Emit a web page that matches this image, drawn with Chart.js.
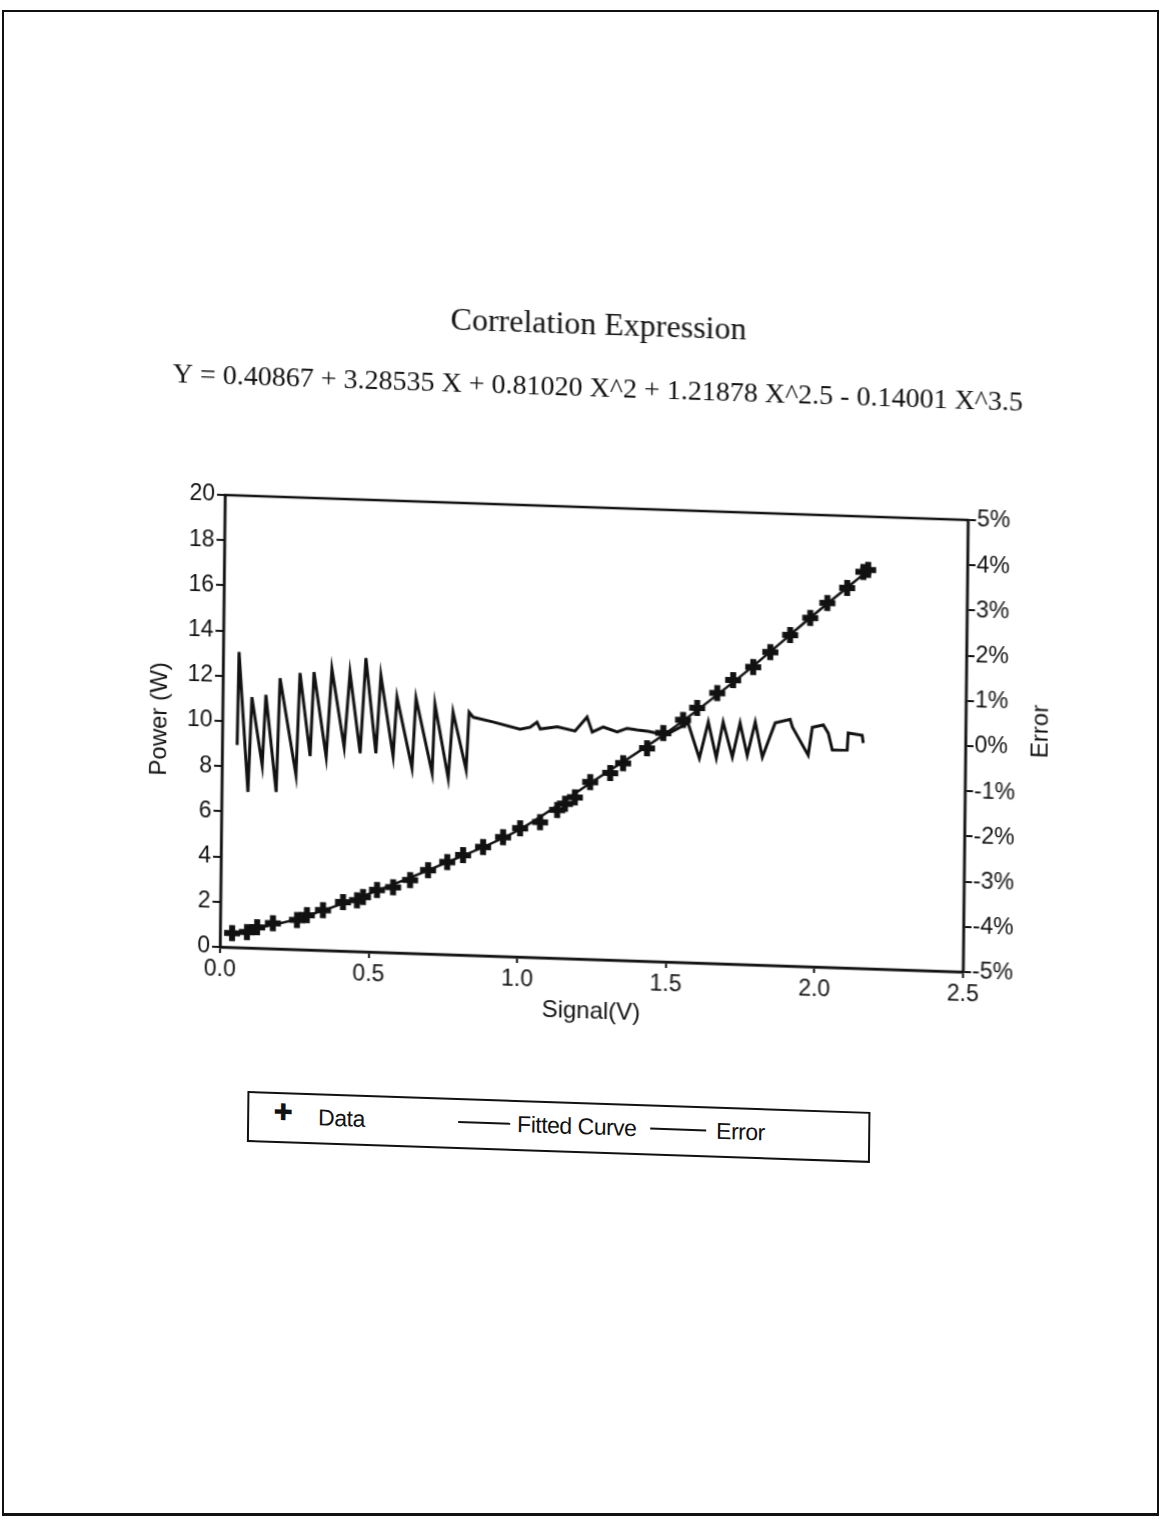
<!DOCTYPE html>
<html>
<head>
<meta charset="utf-8">
<title>Correlation Expression</title>
<script src="https://cdn.jsdelivr.net/npm/chart.js@4.4.1/dist/chart.umd.min.js"></script>
<style>
    html, body { margin: 0; padding: 0; background: #fff; }
    body { width: 1166px; height: 1530px; position: relative; overflow: hidden; }
    .page-frame {
        position: absolute; left: 2px; top: 10px; width: 1157px; height: 1506px;
        border: 2px solid #111; border-bottom-width: 3px; box-sizing: border-box;
    }
    /* the scanned sheet is slightly skewed, so the whole drawing is too */
    .sheet {
        position: absolute; left: 0; top: 0; width: 1166px; height: 1530px;
        transform-origin: 225px 495px;
        transform: matrix(1, 0.0336, -0.011, 1, 0, 0);
    }
    #chart { position: absolute; left: 0; top: 0; }
    .legend-box {
        position: absolute; left: 254px; top: 1090px; width: 623px; height: 51px;
        border: 2.5px solid #111; box-sizing: border-box;
    }
    .legend-item {
        position: absolute; height: 24px; line-height: 24px; color: #111;
        font-family: "Liberation Sans", Arial, sans-serif; font-size: 23px;
        letter-spacing: -0.5px; white-space: nowrap;
    }
    .legend-line { position: absolute; height: 0; border-top: 2px solid #111; }
    .legend-mark {
        position: absolute; width: 22px; height: 22px; line-height: 22px; text-align: center;
        font-family: "DejaVu Sans", sans-serif; font-size: 23px; font-weight: bold; color: #111;
    }
</style>
</head>
<body>
<div class="page-frame"></div>
<div class="sheet">
    <canvas id="chart" width="1166" height="1030"></canvas>
    <div class="legend-box"></div>
    <div class="legend-mark" style="left:279px; top:1099px;">&#10010;</div>
    <div class="legend-item" style="left:325px; top:1102px;">Data</div>
    <div class="legend-line" style="left:465px; top:1113px; width:52px;"></div>
    <div class="legend-item" style="left:524px; top:1102px;">Fitted Curve</div>
    <div class="legend-line" style="left:657px; top:1113px; width:56px;"></div>
    <div class="legend-item" style="left:723px; top:1102px;">Error</div>
</div>
<script>
var signal = [0.04, 0.09, 0.124, 0.177, 0.258, 0.291, 0.345, 0.412, 0.459, 0.479,
    0.526, 0.58, 0.637, 0.697, 0.761, 0.814, 0.881, 0.948, 1.005, 1.072,
    1.129, 1.155, 1.188, 1.239, 1.306, 1.349, 1.429, 1.483, 1.549, 1.596,
    1.663, 1.716, 1.783, 1.84, 1.906, 1.973, 2.03, 2.096, 2.15, 2.166];
var power = [0.63, 0.70, 0.93, 1.13, 1.30, 1.54, 1.78, 2.17, 2.27, 2.42,
    2.75, 2.90, 3.24, 3.71, 4.09, 4.42, 4.81, 5.28, 5.70, 6.00,
    6.56, 6.85, 7.15, 7.84, 8.27, 8.73, 9.43, 10.12, 10.73, 11.28,
    11.97, 12.57, 13.17, 13.86, 14.65, 15.43, 16.12, 16.81, 17.54, 17.64];

// fitted curve
var fitSignal = [0.04, 0.25, 0.5, 0.75, 1.0, 1.25, 1.5, 1.75, 2.0, 2.17];
var fitPower = [0.62, 1.32, 2.58, 4.02, 5.62, 7.90, 10.20, 12.85, 15.75, 17.66];

// relative error in percent (right axis)
var errSignal = [0.050, 0.053, 0.088, 0.098, 0.135, 0.145, 0.183, 0.192, 0.249, 0.259,
    0.296, 0.306, 0.350, 0.366, 0.410, 0.427, 0.464, 0.480, 0.517, 0.531,
    0.575, 0.586, 0.639, 0.650, 0.707, 0.714, 0.761, 0.775, 0.821, 0.829,
    0.843, 0.910, 1.001, 1.035, 1.058, 1.069, 1.126, 1.186, 1.226, 1.244,
    1.281, 1.328, 1.361, 1.395, 1.432, 1.490, 1.566, 1.605, 1.634, 1.662,
    1.684, 1.716, 1.741, 1.766, 1.792, 1.817, 1.859, 1.909, 1.917, 1.971,
    1.984, 2.021, 2.038, 2.052, 2.102, 2.105, 2.152, 2.156];
var errPct = [-0.52, 1.54, -1.55, 0.55, -0.95, 0.61, -1.53, 0.99, -1.14, 1.12,
    -0.71, 1.15, -0.72, 1.23, -0.49, 1.16, -0.61, 1.50, -0.60, 1.13,
    -0.65, 0.66, -0.90, 0.65, -1.00, 0.53, -1.10, 0.37, -0.90, 0.38,
    0.27, 0.18, 0.04, 0.09, 0.21, 0.06, 0.12, 0.04, 0.36, 0.03,
    0.15, 0.05, 0.14, 0.11, 0.09, 0.02, 0.30, -0.47, 0.34, -0.45,
    0.35, -0.42, 0.34, -0.37, 0.37, -0.40, 0.37, 0.46, 0.29, -0.32,
    0.30, 0.36, 0.18, -0.19, -0.18, 0.20, 0.16, -0.01];

var titleText = 'Correlation Expression';
var equationText = 'Y = 0.40867 + 3.28535 X + 0.81020 X^2 + 1.21878 X^2.5 - 0.14001 X^3.5';
var xTicks = [0, 0.5, 1.0, 1.5, 2.0, 2.5];

var INK = '#111';
var SANS = '"Liberation Sans", Arial, sans-serif';

function pairs(xs, ys) {
    return xs.map(function(x, i) { return {x: x, y: ys[i]}; });
}

// closes the plot box (top edge) and writes the right axis title bottom-to-top
var framePlugin = {
    id: 'frame',
    afterDraw: function(chart) {
        var ctx = chart.ctx;
        var a = chart.chartArea;
        ctx.save();
        ctx.strokeStyle = INK;
        ctx.lineWidth = 2.5;
        ctx.strokeRect(a.left, a.top, a.right - a.left, a.bottom - a.top);
        ctx.translate(a.right + 75, 704);
        ctx.rotate(-Math.PI / 2);
        ctx.fillStyle = INK;
        ctx.font = '24px ' + SANS;
        ctx.textAlign = 'center';
        ctx.textBaseline = 'middle';
        ctx.fillText('Error', 0, 0);
        ctx.restore();
    }
};

var tickFont = {family: SANS, size: 23};
var axisGrid = {drawOnChartArea: false, color: INK, lineWidth: 2, tickLength: 8};
var axisBorder = {display: true, color: INK, width: 2.5};

new Chart(document.getElementById('chart'), {
    type: 'scatter',
    data: {
        datasets: [{
            label: 'Data',
            data: pairs(signal, power),
            showLine: false,
            pointStyle: 'cross',
            pointRadius: 8,
            pointBorderWidth: 6,
            borderColor: INK,
            backgroundColor: INK,
            yAxisID: 'y'
        }, {
            label: 'Fitted Curve',
            data: pairs(fitSignal, fitPower),
            showLine: true,
            cubicInterpolationMode: 'monotone',
            pointRadius: 0,
            borderWidth: 2.5,
            borderColor: INK,
            yAxisID: 'y'
        }, {
            label: 'Error',
            data: pairs(errSignal, errPct),
            showLine: true,
            tension: 0,
            pointRadius: 0,
            borderWidth: 3,
            borderColor: INK,
            yAxisID: 'y2'
        }]
    },
    options: {
        responsive: false,
        animation: false,
        devicePixelRatio: 1,
        layout: {padding: {left: 145, right: 118, top: 294, bottom: 13}},
        plugins: {
            legend: {display: false},
            tooltip: {enabled: false},
            title: {
                display: true,
                text: titleText,
                color: INK,
                font: {family: '"Liberation Serif", "Times New Roman", serif', size: 32, weight: 'normal'},
                padding: {top: 0, bottom: 27}
            },
            subtitle: {
                display: true,
                text: equationText,
                color: INK,
                font: {family: '"Liberation Serif", "Times New Roman", serif', size: 28},
                padding: {top: 0, bottom: 102}
            }
        },
        scales: {
            x: {
                type: 'linear',
                min: 0,
                max: 2.5,
                afterFit: function(scale) { scale.height = 70; },
                afterBuildTicks: function(scale) {
                    scale.ticks = xTicks.map(function(v) { return {value: v}; });
                },
                grid: {drawOnChartArea: false, color: INK, lineWidth: 2, tickLength: 6},
                border: axisBorder,
                ticks: {
                    color: INK, font: tickFont, padding: 3, maxRotation: 0,
                    callback: function(v) { return Number(v).toFixed(1); }
                },
                title: {
                    display: true, text: 'Signal(V)', color: INK,
                    font: {family: SANS, size: 24}, padding: {top: 0, bottom: 3}
                }
            },
            y: {
                type: 'linear',
                position: 'left',
                min: 0,
                max: 20,
                afterFit: function(scale) { scale.width = 80; },
                grid: axisGrid,
                border: axisBorder,
                ticks: {color: INK, font: tickFont, stepSize: 2, padding: 2},
                title: {
                    display: true, text: 'Power (W)', color: INK,
                    font: {family: SANS, size: 24}, padding: {top: 3, bottom: 0}
                }
            },
            y2: {
                type: 'linear',
                position: 'right',
                min: -5,
                max: 5,
                afterFit: function(scale) { scale.width = 80; },
                grid: axisGrid,
                border: axisBorder,
                ticks: {
                    color: INK, font: tickFont, stepSize: 1, padding: 1,
                    callback: function(v) { return v + '%'; }
                }
            }
        }
    },
    plugins: [framePlugin]
});
</script>
</body>
</html>
